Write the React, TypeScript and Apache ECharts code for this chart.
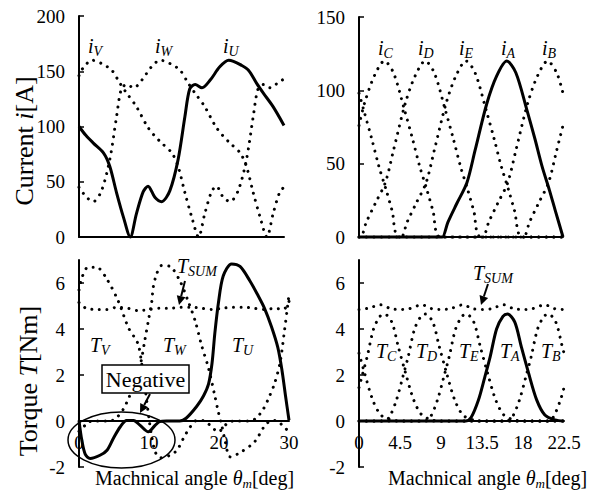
import React, { useEffect, useRef } from 'react';
import * as echarts from 'echarts';

const F = "'Liberation Serif', 'Times New Roman', Times, serif";

// ---------- Top-left: 3-phase currents [A] vs angle [deg] ----------
const iU: [number, number][] = [[0,100],[1,92],[2.1,85],[3.6,76],[4.5,64],[5.5,40],[6.5,18],[7.5,0],[8.4,21],[9.4,41],[10.1,46],[11.1,36],[12.1,32],[13.3,42],[14.5,70],[15.5,109],[16.2,134],[17,138],[18,135],[19.2,142],[20.6,154],[21.9,160],[22.6,159],[23.6,156],[24.8,151],[26,139],[27,130],[28.4,118],[30,101]];
const iW: [number, number][] = [[0,45],[1.1,36],[2.1,32],[3.3,42],[4.5,70],[5.5,109],[6.2,134],[7,138],[8,135],[9.2,142],[10.6,154],[11.9,160],[12.6,159],[13.6,156],[14.8,151],[16,139],[17,130],[18.4,118],[20,100],[21,92],[22.1,85],[23.6,76],[24.5,64],[25.5,40],[26.5,18],[27.5,0],[28.4,21],[29.4,41],[30,45]];
const iV: [number, number][] = [[0,146],[0.6,153],[1.9,160],[2.6,159],[3.6,156],[4.8,151],[6,139],[7,130],[8.4,118],[10,100],[11,92],[12.1,85],[13.6,76],[14.5,64],[15.5,40],[16.5,18],[17.5,0],[18.4,21],[19.4,41],[20.1,46],[21.1,36],[22.1,32],[23.3,42],[24.5,70],[25.5,109],[26.2,134],[27,138],[28,135],[29.2,140],[30,143]];

// ---------- Top-right: 5-phase currents ----------
const iA: [number, number][] = [[0,0],[9,0],[9.2,0],[9.8,10],[10.8,23],[11.9,37],[12.8,59],[14.1,91],[15.2,110],[16.3,120],[17.3,112],[18.5,87],[19.4,67],[20.2,48],[21,32],[21.65,18],[22.5,0]];
const iB: [number, number][] = [[0,98],[0.5,87],[1.4,67],[2.2,48],[3,32],[3.65,18],[4.5,0],[13.5,0],[13.7,0],[14.3,10],[15.3,23],[16.4,37],[17.3,59],[18.6,91],[19.7,110],[20.8,120],[21.8,112],[22.5,98]];
const iC: [number, number][] = [[0,76],[0.6,91],[1.7,110],[2.8,120],[3.8,112],[5,87],[5.9,67],[6.7,48],[7.5,32],[8.15,18],[9,0],[18,0],[18.2,0],[18.8,10],[19.8,23],[20.9,37],[21.8,59],[22.5,76]];
const iD: [number, number][] = [[0,0],[0.2,0],[0.8,10],[1.8,23],[2.9,37],[3.8,59],[5.1,91],[6.2,110],[7.3,120],[8.3,112],[9.5,87],[10.4,67],[11.2,48],[12,32],[12.65,18],[13.5,0],[22.5,0]];
const iE: [number, number][] = [[0,0],[4.5,0],[4.7,0],[5.3,10],[6.3,23],[7.4,37],[8.3,59],[9.6,91],[10.7,110],[11.8,120],[12.8,112],[14,87],[14.9,67],[15.7,48],[16.5,32],[17.15,18],[18,0],[22.5,0]];

// ---------- Bottom-left: 3-phase torques [Nm] ----------
const TU: [number, number][] = [[0,0.03],[0.4,-0.83],[0.9,-1.45],[1.6,-1.63],[3,-1.49],[4,-1.27],[4.9,-0.76],[5.9,-0.25],[6.8,0.02],[7.8,0.02],[8.7,-0.18],[9.9,-0.47],[10.9,-0.18],[11.5,-0.03],[12.5,0],[14.4,0],[15.3,0.12],[16.8,0.63],[17.8,1.1],[18.5,1.6],[19,2.5],[19.4,3.8],[19.9,5.1],[20.6,6.3],[21.8,6.83],[23,6.72],[24.4,6.1],[25.5,5.5],[26.5,4.9],[27.5,4.1],[28.4,3.2],[29,2.2],[29.5,1.1],[30,0.03]];
const TV: [number, number][] = [[0,5.7],[0.5,6.3],[1.3,6.69],[2.5,6.69],[3.96,6.18],[5.6,5.22],[7.05,4.06],[8,3.6],[8.5,3.3],[8.95,2.5],[9.5,1.3],[10,0.1],[10.4,-0.7],[10.9,-1.35],[11.6,-1.6],[13,-1.49],[14,-1.27],[14.9,-0.76],[15.9,-0.25],[16.8,0.02],[17.8,0.02],[18.7,-0.18],[19.9,-0.47],[20.9,-0.18],[21.5,-0.03],[22.5,0],[24.4,0],[25.3,0.12],[26.3,0.5],[27.1,1.0],[27.9,1.6],[28.7,2.5],[29.3,3.8],[29.8,5.0],[30,5.5]];
const TW: [number, number][] = [[0,-0.45],[0.9,-0.18],[1.5,-0.03],[2.5,0],[4.4,0],[5.3,0.12],[6.3,0.5],[7.1,1.0],[7.9,1.6],[8.8,2.5],[9.4,3.5],[9.9,4.35],[10.4,5.2],[10.6,5.8],[11.1,6.4],[11.8,6.76],[13,6.72],[14.4,6.1],[15.6,5.2],[16.6,4.35],[17.5,3.3],[18.5,2.3],[19.4,1.1],[19.9,0.4],[20.4,-0.2],[20.9,-0.9],[21.6,-1.56],[23.2,-1.34],[25.1,-0.9],[26.6,-0.18],[27.6,0.02],[28.4,0],[29.2,-0.25],[30,-0.45]];
const TSUM3: [number, number][] = [[0,5.15],[1,4.9],[2.5,4.85],[4,4.85],[5.5,4.95],[7,4.9],[8.5,4.8],[10,4.85],[11.5,4.9],[13,4.9],[14.5,4.95],[16,4.95],[17.5,4.9],[19,4.85],[20.5,4.9],[22,4.95],[23.5,4.95],[25,4.9],[26.5,4.85],[28,4.9],[29.2,4.85],[30,5.2]];

// ---------- Bottom-right: 5-phase torques [Nm] ----------
const TA: [number, number][] = [[0,0],[11.5,0],[11.7,0],[12.3,0.15],[13.1,0.9],[13.8,1.9],[14.4,2.8],[15.1,4.0],[15.8,4.55],[16.3,4.65],[17.1,4.3],[17.8,3.25],[18.6,2.1],[19.5,0.92],[20.4,0.26],[21.5,0.05],[22.5,0]];
const TB: [number, number][] = [[0,2.95],[0.6,2.1],[1.5,0.92],[2.4,0.26],[3.5,0.05],[4.5,0],[16,0],[16.2,0],[16.8,0.15],[17.6,0.9],[18.3,1.9],[18.9,2.8],[19.6,4.0],[20.3,4.55],[20.8,4.65],[21.6,4.3],[22.3,3.25],[22.5,2.95]];
const TC: [number, number][] = [[0,1.45],[0.3,1.9],[0.9,2.8],[1.6,4.0],[2.3,4.55],[2.8,4.65],[3.6,4.3],[4.3,3.25],[5.1,2.1],[6,0.92],[6.9,0.26],[8,0.05],[9,0],[20.5,0],[20.7,0],[21.3,0.15],[22.1,0.9],[22.5,1.45]];
const TD: [number, number][] = [[0,0],[2.5,0],[2.7,0],[3.3,0.15],[4.1,0.9],[4.8,1.9],[5.4,2.8],[6.1,4.0],[6.8,4.55],[7.3,4.65],[8.1,4.3],[8.8,3.25],[9.6,2.1],[10.5,0.92],[11.4,0.26],[12.5,0.05],[13.5,0],[22.5,0]];
const TE: [number, number][] = [[0,0],[7,0],[7.2,0],[7.8,0.15],[8.6,0.9],[9.3,1.9],[9.9,2.8],[10.6,4.0],[11.3,4.55],[11.8,4.65],[12.6,4.3],[13.3,3.25],[14.1,2.1],[15,0.92],[15.9,0.26],[17,0.05],[18,0],[22.5,0]];
const TSUM5: [number, number][] = [[0,4.85],[1,4.9],[2.4,5.05],[3.5,4.88],[4.5,4.85],[5.5,4.88],[6.9,5.05],[8,4.88],[9,4.85],[10,4.88],[11.4,5.05],[12.5,4.88],[13.5,4.85],[14.5,4.88],[15.9,5.05],[17,4.88],[18,4.85],[19,4.88],[20.4,5.05],[21.5,4.88],[22.5,4.85]];

// tick labels
const leftXTicks = [0, 10, 20, 30];
const rightXTicks = [0, 4.5, 9, 13.5, 18, 22.5];
const torqueYTicks = [-2, 0, 2, 4, 6];

const dotted = { type: [0.01, 7.5] as any, width: 3, cap: 'round' as const, color: '#000' };
const solid = { width: 3, color: '#000', join: 'round' as const };

function line(data: [number, number][], idx: number, isSolid: boolean) {
  return {
    type: 'line', data, xAxisIndex: idx, yAxisIndex: idx,
    showSymbol: false, symbol: 'none', smooth: 0.3, clip: false, silent: true,
    lineStyle: isSolid ? solid : dotted, z: isSolid ? 5 : 3,
  };
}

const mainTok = (size: number) => ({ fontSize: size, fontStyle: 'italic', fontFamily: F, fill: '#000', lineHeight: 24 });
const subTok = (size: number) => ({ fontSize: size, fontStyle: 'italic', fontFamily: F, fill: '#000', verticalAlign: 'bottom' });

function sub(x: number, y: number, m: string, s: string) {
  return {
    type: 'text', x, y, z: 100,
    style: {
      text: `{m|${m}}{s|${s}}`,
      rich: { m: mainTok(20), s: subTok(14) },
      textAlign: 'left', textVerticalAlign: 'middle',
    },
  };
}

function arrow(x1: number, y1: number, x2: number, y2: number) {
  const dx = x2 - x1, dy = y2 - y1;
  const L = Math.hypot(dx, dy);
  const ux = dx / L, uy = dy / L;
  const hl = 9, hw = 4.5;
  const bx = x2 - ux * hl, by = y2 - uy * hl;
  const px = -uy, py = ux;
  return [
    { type: 'line', z: 100, shape: { x1, y1, x2: bx, y2: by }, style: { stroke: '#000', lineWidth: 2 } },
    { type: 'polygon', z: 100, shape: { points: [[x2, y2], [bx + px * hw, by + py * hw], [bx - px * hw, by - py * hw]] }, style: { fill: '#000' } },
  ];
}

// x axis of the torque panels sits at T = 0, i.e. 2 units (2 * 23 px) above the grid bottom
function xAxis(idx: number, max: number, labels: number[] | null, interval?: number, offset = 0) {
  return {
    type: 'value', gridIndex: idx, min: 0, max, interval, position: 'bottom', offset,
    axisLine: { show: true, onZero: false, lineStyle: { color: '#000', width: 2 } },
    axisTick: { show: false },
    splitLine: { show: false },
    axisLabel: labels
      ? { show: true, customValues: labels, fontFamily: F, fontSize: 19, color: '#000', margin: 12 }
      : { show: false },
  };
}

function yAxis(idx: number, min: number, max: number, interval: number, labels?: number[], ticks?: number[]) {
  return {
    type: 'value', gridIndex: idx, min, max, interval,
    axisLine: { show: true, onZero: false, lineStyle: { color: '#000', width: 2 } },
    axisTick: { show: true, inside: true, length: 5, lineStyle: { color: '#000', width: 1.5 }, ...(ticks ? { customValues: ticks } : {}) },
    splitLine: { show: false },
    axisLabel: { show: true, fontFamily: F, fontSize: 19, color: '#000', margin: 14, ...(labels ? { customValues: labels } : {}) },
  };
}

export default function App() {
  const ref = useRef<HTMLDivElement>(null);
  useEffect(() => {
    const chart = echarts.init(ref.current!, null, { renderer: 'svg' });
    const option: any = {
      animation: false,
      backgroundColor: '#fff',
      textStyle: { fontFamily: F },
      grid: [
        { left: 79, top: 16, width: 205, height: 221 },
        { left: 359, top: 17, width: 204, height: 220 },
        { left: 79, top: 260, width: 210, height: 207 },
        { left: 359, top: 260, width: 205, height: 207 },
      ],
      xAxis: [
        xAxis(0, 30, null),
        xAxis(1, 22.5, null),
        xAxis(2, 30, leftXTicks, 10, -46),
        xAxis(3, 22.5, rightXTicks, 4.5, -46),
      ],
      yAxis: [
        yAxis(0, 0, 200, 50),
        yAxis(1, 0, 150, 50),
        yAxis(2, -2, 7, 2, torqueYTicks, [-2, 2, 4, 6]),
        yAxis(3, -2, 7, 2, torqueYTicks, [-2, 2, 4, 6]),
      ],
      series: [
        line(iV, 0, false), line(iW, 0, false), line(iU, 0, true),
        line(iB, 1, false), line(iC, 1, false), line(iD, 1, false), line(iE, 1, false), line(iA, 1, true),
        line(TV, 2, false), line(TW, 2, false), line(TSUM3, 2, false), line(TU, 2, true),
        line(TB, 3, false), line(TC, 3, false), line(TD, 3, false), line(TE, 3, false), line(TSUM5, 3, false), line(TA, 3, true),
      ],
      graphic: [
        // axis titles
        { type: 'text', x: 24, y: 141, rotation: Math.PI / 2, z: 100,
          style: { text: '{a|Current }{b|i}{a|[A]}', textAlign: 'center', textVerticalAlign: 'middle',
            rich: { a: { fontSize: 26, fontFamily: F, fill: '#000' }, b: { fontSize: 26, fontFamily: F, fontStyle: 'italic', fill: '#000' } } } },
        { type: 'text', x: 28, y: 381, rotation: Math.PI / 2, z: 100,
          style: { text: '{a|Torque }{b|T}{a|[Nm]}', textAlign: 'center', textVerticalAlign: 'middle',
            rich: { a: { fontSize: 26, fontFamily: F, fill: '#000' }, b: { fontSize: 26, fontFamily: F, fontStyle: 'italic', fill: '#000' } } } },
        ...[95, 388].map((x) => ({
          type: 'text', x, y: 478, z: 100,
          style: { text: '{a|Machnical angle }{t|θ}{s|m}{a|[deg]}', textAlign: 'left', textVerticalAlign: 'middle',
            rich: {
              a: { fontSize: 20, fontFamily: F, fill: '#000', lineHeight: 24 },
              t: { fontSize: 20, fontFamily: F, fontStyle: 'italic', fill: '#000', lineHeight: 24 },
              s: { fontSize: 13, fontFamily: F, fontStyle: 'italic', fill: '#000', verticalAlign: 'bottom' },
            } } })),
        // phase labels
        sub(88, 46, 'i', 'V'), sub(155, 46, 'i', 'W'), sub(223, 46, 'i', 'U'),
        sub(378, 48, 'i', 'C'), sub(418, 48, 'i', 'D'), sub(459, 48, 'i', 'E'), sub(501, 48, 'i', 'A'), sub(542, 48, 'i', 'B'),
        sub(90, 345, 'T', 'V'), sub(163, 345, 'T', 'W'), sub(232, 345, 'T', 'U'), sub(177, 266, 'T', 'SUM'),
        sub(473, 273, 'T', 'SUM'),
        sub(376, 351, 'T', 'C'), sub(416, 351, 'T', 'D'), sub(459, 351, 'T', 'E'), sub(500, 351, 'T', 'A'), sub(541, 351, 'T', 'B'),
        // Negative callout
        { type: 'rect', z: 100, shape: { x: 102, y: 365, width: 87, height: 28 }, style: { fill: '#fff', stroke: '#000', lineWidth: 1.5 } },
        { type: 'text', z: 101, x: 145.5, y: 379.5, style: { text: 'Negative', fontSize: 22, fontFamily: F, fill: '#000', textAlign: 'center', textVerticalAlign: 'middle' } },
        { type: 'ellipse', z: 100, shape: { cx: 121.5, cy: 440, rx: 53.5, ry: 28 }, style: { fill: 'none', stroke: '#000', lineWidth: 1.5 } },
        ...arrow(150, 394, 140, 413),
        ...arrow(185, 281, 179, 305),
        ...arrow(488, 284, 481, 305),
      ],
    };
    chart.setOption(option);
    return () => chart.dispose();
  }, []);
  return <div ref={ref} style={{ position: 'fixed', left: 0, top: 0, width: 596, height: 491, background: '#fff' }} />;
}
